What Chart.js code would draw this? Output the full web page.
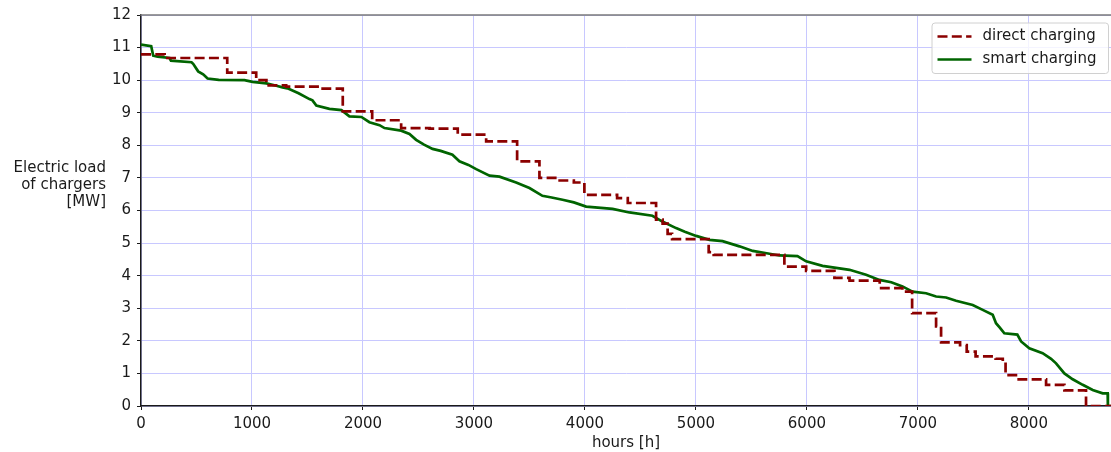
<!DOCTYPE html>
<html>
<head>
<meta charset="utf-8">
<script src="https://cdn.jsdelivr.net/npm/chart.js@4/dist/chart.umd.min.js"></script>
<style>
  html, body { margin: 0; padding: 0; background: #fff; }
  #wrap { position: relative; width: 1111px; height: 452px; }
</style>
</head>
<body>
<div id="wrap"><canvas id="c" width="1111" height="452"></canvas></div>
<script>
// ---- data ----
const directHours = [0, 213, 777, 1038, 1130, 1308, 1608, 1818, 2083, 2344, 2600, 2854, 3110, 3389, 3590, 3750, 3900, 3995, 4290, 4386, 4641, 4700, 4745, 4785, 5115, 5160, 5797, 5993, 6248, 6384, 6656, 6860, 6948, 7164, 7209, 7380, 7440, 7520, 7700, 7765, 7790, 7896, 8155, 8320, 8515, 8740];
const directLoad  = [10.79, 10.68, 10.23, 10.0, 9.84, 9.80, 9.74, 9.04, 8.77, 8.53, 8.51, 8.33, 8.12, 7.51, 7.0, 6.92, 6.86, 6.48, 6.38, 6.23, 5.72, 5.6, 5.28, 5.12, 4.72, 4.64, 4.28, 4.15, 3.93, 3.85, 3.62, 3.51, 2.85, 2.44, 1.95, 1.87, 1.67, 1.52, 1.45, 1.36, 0.95, 0.82, 0.65, 0.48, 0.0, 0.0];

const smartHours = [0, 92, 110, 150, 257, 270, 455, 470, 515, 560, 600, 700, 932, 1005, 1130, 1220, 1275, 1320, 1420, 1518, 1545, 1580, 1698, 1806, 1878, 1986, 2058, 2149, 2194, 2344, 2419, 2479, 2550, 2627, 2700, 2806, 2869, 2950, 3020, 3140, 3230, 3380, 3500, 3617, 3700, 3798, 3900, 4011, 4249, 4401, 4608, 4698, 4821, 4900, 5002, 5122, 5240, 5392, 5512, 5650, 5752, 5915, 5993, 6141, 6384, 6533, 6653, 6760, 6861, 6951, 7074, 7164, 7254, 7344, 7494, 7584, 7674, 7704, 7740, 7779, 7896, 7930, 8004, 8124, 8200, 8245, 8320, 8395, 8485, 8575, 8665, 8710, 8712, 8740];
const smartLoad  = [11.09, 11.04, 10.75, 10.72, 10.68, 10.60, 10.55, 10.50, 10.27, 10.18, 10.05, 10.01, 10.0, 9.95, 9.90, 9.83, 9.78, 9.75, 9.60, 9.42, 9.38, 9.22, 9.12, 9.08, 8.89, 8.87, 8.71, 8.62, 8.53, 8.45, 8.35, 8.17, 8.02, 7.89, 7.83, 7.71, 7.51, 7.40, 7.27, 7.07, 7.04, 6.86, 6.69, 6.45, 6.40, 6.33, 6.25, 6.12, 6.05, 5.94, 5.84, 5.66, 5.46, 5.35, 5.22, 5.10, 5.06, 4.90, 4.76, 4.68, 4.62, 4.60, 4.44, 4.30, 4.18, 4.03, 3.87, 3.80, 3.67, 3.51, 3.46, 3.36, 3.33, 3.23, 3.10, 2.95, 2.80, 2.54, 2.40, 2.23, 2.19, 1.98, 1.77, 1.62, 1.45, 1.31, 1.00, 0.82, 0.65, 0.49, 0.39, 0.39, 0.0, 0.0];

const seriesLabels = ['direct charging', 'smart charging'];
const xTickValues = [0, 1000, 2000, 3000, 4000, 5000, 6000, 7000, 8000];
const yTickValues = [0, 1, 2, 3, 4, 5, 6, 7, 8, 9, 10, 11, 12];
const xTitle = 'hours [h]';
const yTitleLines = ['Electric load', 'of chargers', '[MW]'];
const xMax = 8740;
const yMax = 12;

// ---- chart ----
const FONT = "'DejaVu Sans', 'Liberation Sans', sans-serif";
Chart.defaults.font.family = FONT;
Chart.defaults.font.size = 15;
Chart.defaults.color = '#1a1a1a';

const toPts = (xs, ys) => xs.map((x, i) => ({x: x, y: ys[i]}));

const decoPlugin = {
  id: 'deco',
  afterDraw(chart) {
    const ctx = chart.ctx;
    const a = chart.chartArea;
    ctx.save();
    // top spine
    ctx.strokeStyle = '#7a7a7a';
    ctx.lineWidth = 1.5;
    ctx.beginPath();
    ctx.moveTo(a.left - 0.75, a.top);
    ctx.lineTo(a.right, a.top);
    ctx.stroke();

    // y title (horizontal, right aligned)
    ctx.fillStyle = '#1a1a1a';
    ctx.font = '15px ' + FONT;
    ctx.textAlign = 'right';
    ctx.textBaseline = 'middle';
    const cy = 185;
    const lh = 17.3;
    yTitleLines.forEach((t, i) => {
      ctx.fillText(t, 106, cy + (i - 1) * lh);
    });

    // legend
    const bx = a.right - 179.5, by = a.top + 7.5, bw = 176.5, bh = 50.5;
    ctx.beginPath();
    if (ctx.roundRect) ctx.roundRect(bx + 0.5, by + 0.5, bw, bh, 3); else ctx.rect(bx + 0.5, by + 0.5, bw, bh);
    ctx.fillStyle = 'rgba(255,255,255,0.8)';
    ctx.fill();
    ctx.strokeStyle = '#d0d0d0';
    ctx.lineWidth = 1;
    ctx.stroke();
    chart.data.datasets.forEach((ds, i) => {
      const ly = by + 14 + i * 23;
      ctx.beginPath();
      ctx.setLineDash(ds.borderDash || []);
      ctx.strokeStyle = ds.borderColor;
      ctx.lineWidth = ds.borderWidth;
      ctx.moveTo(bx + 6, ly);
      ctx.lineTo(bx + 40, ly);
      ctx.stroke();
      ctx.setLineDash([]);
      ctx.fillStyle = '#1a1a1a';
      ctx.textAlign = 'left';
      ctx.textBaseline = 'middle';
      ctx.fillText(ds.label, bx + 51, ly);
    });
    ctx.restore();
  }
};

new Chart(document.getElementById('c'), {
  type: 'line',
  data: {
    datasets: [
      {
        label: seriesLabels[0],
        data: toPts(directHours, directLoad),
        borderColor: '#8b0000',
        borderWidth: 2.7,
        borderDash: [10, 4.3],
        stepped: 'before',
        pointRadius: 0,
        fill: false
      },
      {
        label: seriesLabels[1],
        data: toPts(smartHours, smartLoad),
        borderColor: '#006400',
        borderWidth: 2.7,
        tension: 0,
        pointRadius: 0,
        fill: false
      }
    ]
  },
  options: {
    responsive: false,
    animation: false,
    events: [],
    layout: { padding: { top: 15, right: 0, left: 0, bottom: 0 } },
    plugins: { legend: { display: false }, tooltip: { enabled: false } },
    scales: {
      x: {
        type: 'linear',
        min: 0,
        max: xMax,
        afterFit(s) { s.height = 46; },
        afterBuildTicks(s) { s.ticks = xTickValues.map(v => ({ value: v })); },
        ticks: { padding: 5, maxRotation: 0, autoSkip: false, color: '#1a1a1a', font: { size: 15 }, callback: v => String(v) },
        grid: { color: '#c8c8ff', lineWidth: 1, tickColor: '#1a1a1a', tickLength: 4, drawOnChartArea: true },
        border: { color: '#1a1a1a', width: 1.5 },
        title: { display: true, text: xTitle, padding: { top: 0, bottom: 0 }, font: { size: 15 }, color: '#1a1a1a' }
      },
      y: {
        min: 0,
        max: yMax,
        afterFit(s) { s.width = 141; },
        afterBuildTicks(s) { s.ticks = yTickValues.map(v => ({ value: v })); },
        ticks: { padding: 6, autoSkip: false, color: '#1a1a1a', font: { size: 15 }, callback: v => String(v) },
        grid: { color: '#c8c8ff', lineWidth: 1, tickColor: '#1a1a1a', tickLength: 4 },
        border: { color: '#1a1a1a', width: 1.5 }
      }
    }
  },
  plugins: [decoPlugin]
});
</script>
</body>
</html>
